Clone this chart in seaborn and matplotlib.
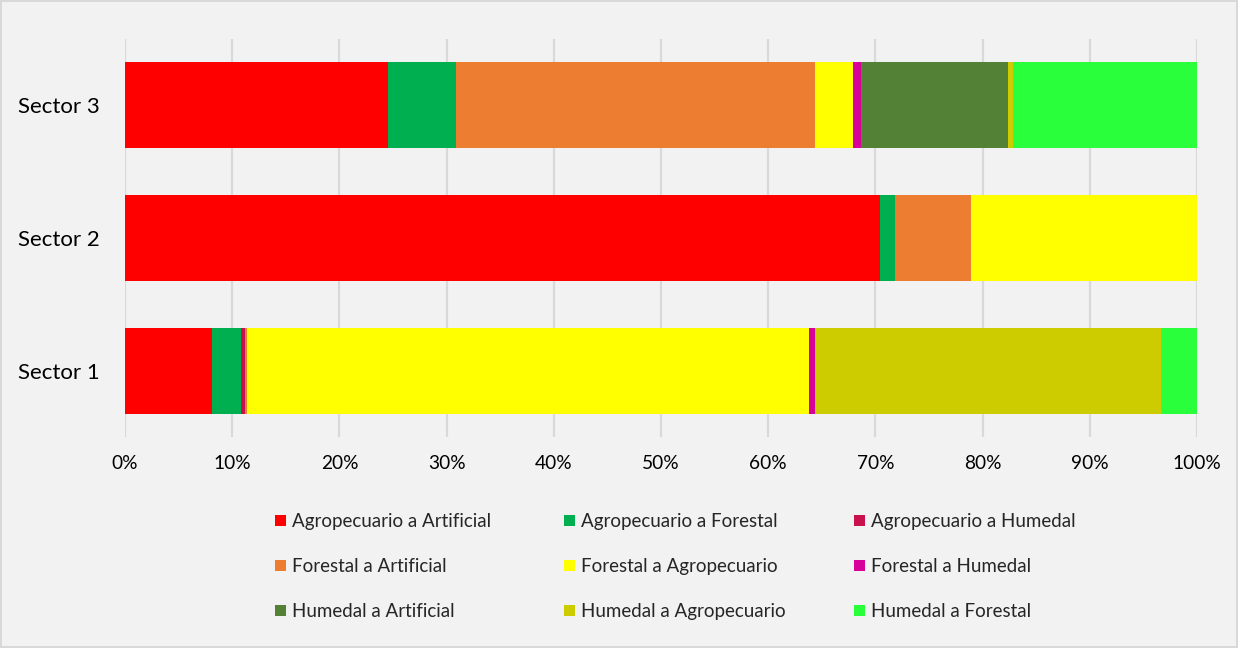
import matplotlib
matplotlib.use("Agg")
import matplotlib.pyplot as plt
import seaborn as sns
import numpy as np
import pandas as pd
from matplotlib.patches import Patch
from matplotlib.ticker import PercentFormatter

# ---- data ----
sectors = ["Sector 3", "Sector 2", "Sector 1"]
transitions = [
    "Agropecuario a Artificial", "Agropecuario a Forestal", "Agropecuario a Humedal",
    "Forestal a Artificial", "Forestal a Agropecuario", "Forestal a Humedal",
    "Humedal a Artificial", "Humedal a Agropecuario", "Humedal a Forestal",
]
colors = ["#FF0000", "#00B050", "#C8124E",
          "#ED7D31", "#FFFF00", "#D8009A",
          "#538135", "#CCCC00", "#29FF3A"]
sector3 = [24.55, 6.35, 0.00, 33.47, 3.53, 0.76, 13.71, 0.47, 17.16]
sector2 = [70.45, 1.40, 0.00, 7.10, 21.05, 0.00, 0.00, 0.00, 0.00]
sector1 = [8.09, 2.73, 0.37, 0.19, 52.42, 0.60, 0.00, 32.20, 3.40]

values = np.array([sector3, sector2, sector1])
cum = np.cumsum(values, axis=1)

sns.set_style("white")
plt.rcParams["font.family"] = ["Lato", "DejaVu Sans"]

bg = "#F2F2F2"
fig = plt.figure(figsize=(12.38, 6.48), dpi=100)
fig.patch.set_facecolor(bg)
fig.patch.set_edgecolor("#D9D9D9")
fig.patch.set_linewidth(1.5)

ax = fig.add_axes([125 / 1238, 1 - 437 / 648, 1072 / 1238, 398 / 648])
ax.set_facecolor(bg)

for i in reversed(range(len(transitions))):
    df = pd.DataFrame({"sector": sectors, "value": cum[:, i]})
    sns.barplot(data=df, x="value", y="sector", order=sectors, orient="h",
                color=colors[i], saturation=1, width=0.65, errorbar=None,
                linewidth=0, edgecolor="none", ax=ax, zorder=3)

ax.set_xlim(0, 100)
ax.set_ylim(2.5, -0.5)
ax.set_xticks(np.arange(0, 101, 10))
ax.xaxis.set_major_formatter(PercentFormatter(100, decimals=0))
ax.grid(axis="x", color="#D9D9D9", linewidth=1.6, zorder=0)
ax.grid(axis="y", visible=False)
ax.set_axisbelow(True)
for s in ax.spines.values():
    s.set_visible(False)
ax.set_xlabel("")
ax.set_ylabel("")
ax.tick_params(axis="x", length=0, pad=13, labelsize=13.8, labelcolor="#000000")
ax.tick_params(axis="y", length=0, pad=18, labelsize=16, labelcolor="#000000")

# legend: three columns placed explicitly, row-wise ordering like the original
col_x = [275, 564, 854]
for c in range(3):
    handles = [Patch(facecolor=colors[r * 3 + c], edgecolor="none") for r in range(3)]
    labels = [transitions[r * 3 + c] for r in range(3)]
    fig.legend(handles, labels, loc="upper left",
               bbox_to_anchor=(col_x[c] / 1238, 1 - 513 / 648),
               frameon=False, borderpad=0, borderaxespad=0,
               handlelength=0.57, handleheight=0.57, handletextpad=0.35,
               labelspacing=1.5, fontsize=13.5)

fig.savefig("out.png", dpi=100, facecolor=fig.get_facecolor(),
            edgecolor=fig.get_edgecolor())
